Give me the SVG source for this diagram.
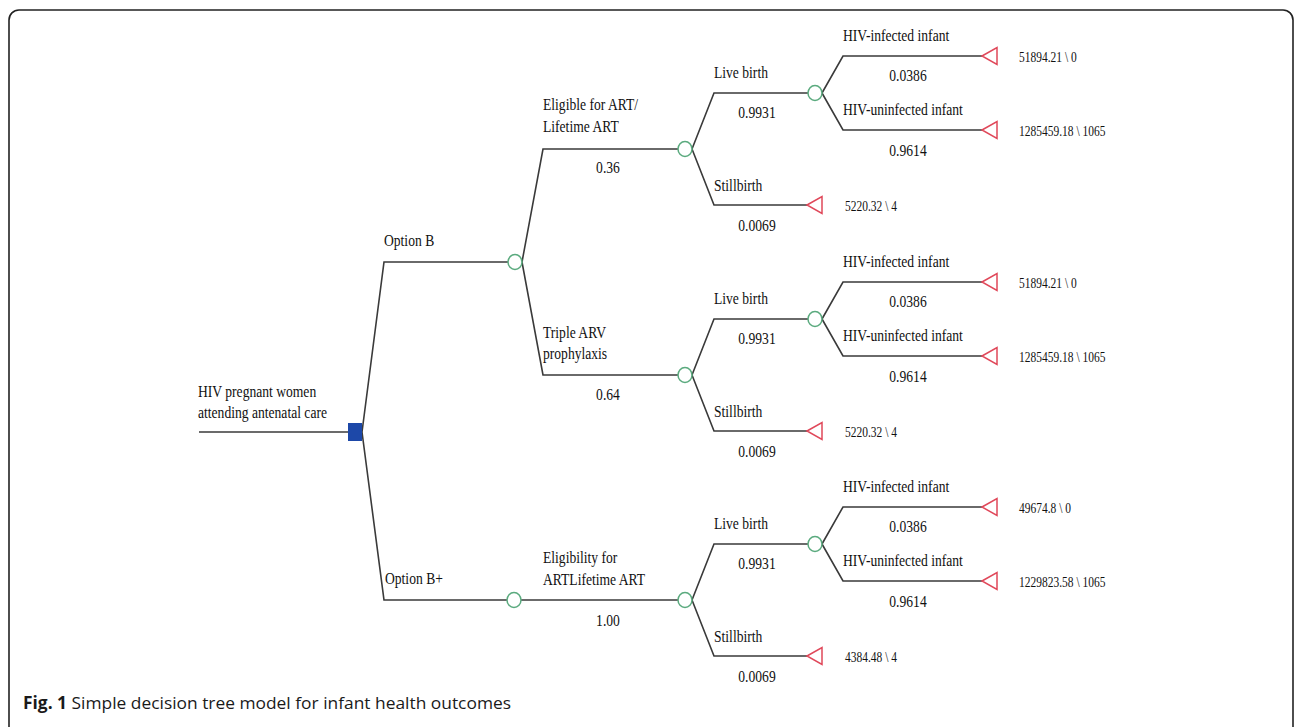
<svg xmlns="http://www.w3.org/2000/svg" width="1295" height="727" viewBox="0 0 1295 727">
<style>
.ln{fill:none;stroke:#3a3a3a;stroke-width:1.6}
.ch{fill:#fff;stroke:#5aaa7e;stroke-width:1.5}
.tm{fill:#fff;stroke:#e0485a;stroke-width:1.5}
.dc{fill:#1d48a8}
.t{font-family:"Liberation Serif","Times New Roman",serif;font-size:17px;fill:#111}
.v{font-size:14px}
.m{text-anchor:middle}
.cap{font-family:"Open Sans","Liberation Sans",Arial,sans-serif;font-size:17px;fill:#1a1a1a}
</style>
<defs>
<polygon id="tri" points="0,0 15,-8.5 15,8.5" class="tm"/>
<ellipse id="cir" cx="0" cy="0" rx="7" ry="7.5" class="ch"/>
</defs>
<rect width="1295" height="727" fill="#fff"/>
<path d="M9,730 V20 A10,10 0 0 1 19,10 H1283 A10,10 0 0 1 1293,20 V730" fill="none" stroke="#222" stroke-width="1.6"/>

<g id="connectors">
<path class="ln" d="M199,432 H348"/>
<path class="ln" d="M362,432 L384,262 H508"/>
<path class="ln" d="M362,432 L384,600 H507"/>
<path class="ln" d="M522,262 L543,149 H678"/>
<path class="ln" d="M522,262 L543,375 H678"/>
<path class="ln" d="M521,600 H678"/>
<path class="ln" d="M692,149 L714,93 H808 M692,149 L714,205 H807"/>
<path class="ln" d="M822,93 L843,56 H982 M822,93 L843,130 H982"/>
<path class="ln" d="M692,375 L714,319 H808 M692,375 L714,431 H807"/>
<path class="ln" d="M822,319 L843,282 H982 M822,319 L843,356 H982"/>
<path class="ln" d="M692,600 L714,544 H808 M692,600 L714,656 H807"/>
<path class="ln" d="M822,544 L843,507 H982 M822,544 L843,581 H982"/>
</g>

<g id="root">
<rect class="dc" x="348" y="423" width="14" height="18"/>
<text class="t" transform="translate(198,397) scale(0.8,1)">HIV pregnant women</text>
<text class="t" transform="translate(198,418) scale(0.8,1)">attending antenatal care</text>
</g>

<g id="optionB">
<use href="#cir" x="515" y="262"/>
<text class="t" transform="translate(384,246) scale(0.8,1)">Option B</text>
</g>
<g id="optionBplus">
<use href="#cir" x="514" y="600"/>
<text class="t" transform="translate(385,584) scale(0.8,1)">Option B+</text>
</g>

<g id="eligible">
<use href="#cir" x="685" y="149"/>
<text class="t" transform="translate(543,110) scale(0.8,1)">Eligible for ART/</text>
<text class="t" transform="translate(543,132) scale(0.8,1)">Lifetime ART</text>
<text class="t m" transform="translate(608,173) scale(0.8,1)">0.36</text>
</g>
<g id="triple">
<use href="#cir" x="685" y="375"/>
<text class="t" transform="translate(543,338) scale(0.8,1)">Triple ARV</text>
<text class="t" transform="translate(543,359) scale(0.8,1)">prophylaxis</text>
<text class="t m" transform="translate(608,400) scale(0.8,1)">0.64</text>
</g>
<g id="eligibility">
<use href="#cir" x="685" y="600"/>
<text class="t" transform="translate(543,563) scale(0.8,1)">Eligibility for</text>
<text class="t" transform="translate(543,585) scale(0.8,1)">ARTLifetime ART</text>
<text class="t m" transform="translate(608,626) scale(0.8,1)">1.00</text>
</g>

<g id="live1">
<use href="#cir" x="815" y="93"/>
<text class="t" transform="translate(714,78) scale(0.8,1)">Live birth</text>
<text class="t m" transform="translate(757,118) scale(0.8,1)">0.9931</text>
</g>
<g id="still1">
<use href="#tri" x="807" y="205"/>
<text class="t" transform="translate(714,191) scale(0.8,1)">Stillbirth</text>
<text class="t m" transform="translate(757,231) scale(0.8,1)">0.0069</text>
<text class="t v" transform="translate(845,211) scale(0.82,1)">5220.32 \ 4</text>
</g>
<g id="inf1">
<use href="#tri" x="982" y="56"/>
<text class="t" transform="translate(843,41) scale(0.8,1)">HIV-infected infant</text>
<text class="t m" transform="translate(908,81) scale(0.8,1)">0.0386</text>
<text class="t v" transform="translate(1019,62) scale(0.82,1)">51894.21 \ 0</text>
</g>
<g id="uninf1">
<use href="#tri" x="982" y="130"/>
<text class="t" transform="translate(843,115) scale(0.8,1)">HIV-uninfected infant</text>
<text class="t m" transform="translate(908,156) scale(0.8,1)">0.9614</text>
<text class="t v" transform="translate(1019,136) scale(0.82,1)">1285459.18 \ 1065</text>
</g>

<g id="live2">
<use href="#cir" x="815" y="319"/>
<text class="t" transform="translate(714,304) scale(0.8,1)">Live birth</text>
<text class="t m" transform="translate(757,344) scale(0.8,1)">0.9931</text>
</g>
<g id="still2">
<use href="#tri" x="807" y="431"/>
<text class="t" transform="translate(714,417) scale(0.8,1)">Stillbirth</text>
<text class="t m" transform="translate(757,457) scale(0.8,1)">0.0069</text>
<text class="t v" transform="translate(845,437) scale(0.82,1)">5220.32 \ 4</text>
</g>
<g id="inf2">
<use href="#tri" x="982" y="282"/>
<text class="t" transform="translate(843,267) scale(0.8,1)">HIV-infected infant</text>
<text class="t m" transform="translate(908,307) scale(0.8,1)">0.0386</text>
<text class="t v" transform="translate(1019,288) scale(0.82,1)">51894.21 \ 0</text>
</g>
<g id="uninf2">
<use href="#tri" x="982" y="356"/>
<text class="t" transform="translate(843,341) scale(0.8,1)">HIV-uninfected infant</text>
<text class="t m" transform="translate(908,382) scale(0.8,1)">0.9614</text>
<text class="t v" transform="translate(1019,362) scale(0.82,1)">1285459.18 \ 1065</text>
</g>

<g id="live3">
<use href="#cir" x="815" y="544"/>
<text class="t" transform="translate(714,529) scale(0.8,1)">Live birth</text>
<text class="t m" transform="translate(757,569) scale(0.8,1)">0.9931</text>
</g>
<g id="still3">
<use href="#tri" x="807" y="656"/>
<text class="t" transform="translate(714,642) scale(0.8,1)">Stillbirth</text>
<text class="t m" transform="translate(757,682) scale(0.8,1)">0.0069</text>
<text class="t v" transform="translate(845,662) scale(0.82,1)">4384.48 \ 4</text>
</g>
<g id="inf3">
<use href="#tri" x="982" y="507"/>
<text class="t" transform="translate(843,492) scale(0.8,1)">HIV-infected infant</text>
<text class="t m" transform="translate(908,532) scale(0.8,1)">0.0386</text>
<text class="t v" transform="translate(1019,513) scale(0.82,1)">49674.8 \ 0</text>
</g>
<g id="uninf3">
<use href="#tri" x="982" y="581"/>
<text class="t" transform="translate(843,566) scale(0.8,1)">HIV-uninfected infant</text>
<text class="t m" transform="translate(908,607) scale(0.8,1)">0.9614</text>
<text class="t v" transform="translate(1019,587) scale(0.82,1)">1229823.58 \ 1065</text>
</g>

<text class="cap" x="23" y="709" textLength="488" lengthAdjust="spacingAndGlyphs"><tspan font-weight="bold">Fig. 1</tspan> Simple decision tree model for infant health outcomes</text>
</svg>
